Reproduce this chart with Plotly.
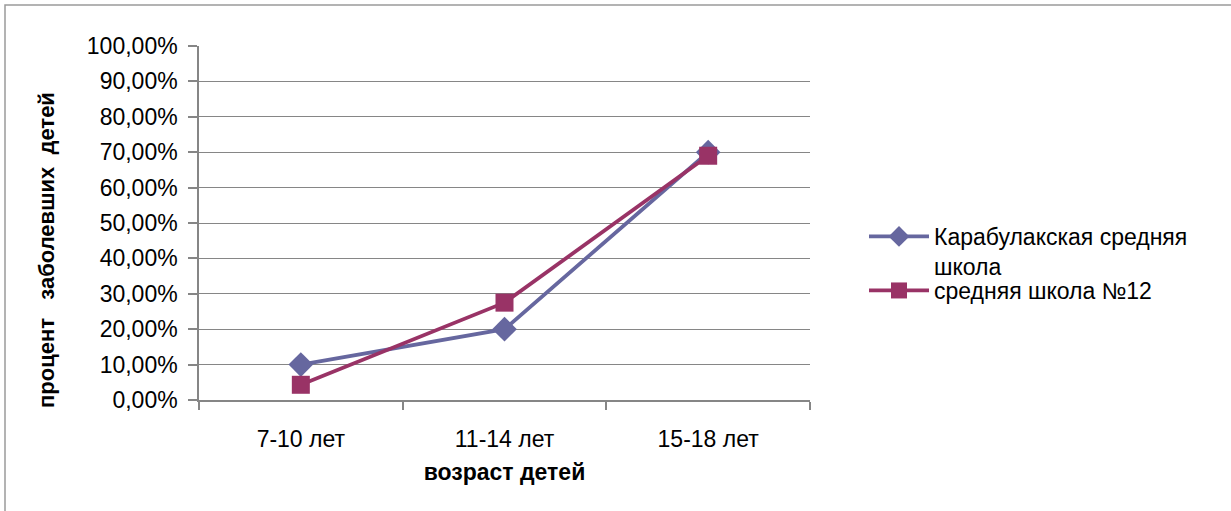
import plotly.graph_objects as go

# Age groups and share of children who fell ill, per school
age_groups = ["7-10 лет", "11-14 лет", "15-18 лет"]
karabulak_school = [0.10, 0.20, 0.70]
school_12 = [0.043, 0.275, 0.69]

series_names = ["Карабулакская средняя<br>школа", "средняя школа №12"]
y_ticks = [i / 10 for i in range(11)]

FONT = "Liberation Sans"
GRID = "#868686"
FS = 23

fig = go.Figure()
fig.add_trace(go.Scatter(
    x=age_groups, y=karabulak_school, name=series_names[0],
    mode="lines+markers", legend="legend",
    line=dict(color="#66679F", width=3.8),
    marker=dict(symbol="diamond", size=19, color="#66679F"),
))
fig.add_trace(go.Scatter(
    x=age_groups, y=school_12, name=series_names[1],
    mode="lines+markers", legend="legend2",
    line=dict(color="#993366", width=3.8),
    marker=dict(symbol="square", size=18, color="#993366"),
))

# plot area spans 199..810 px horizontally and 46..400 px vertically
pw, ph = 611, 354
fig.add_shape(
    type="rect", xref="paper", yref="paper",
    x0=(5 - 199) / pw, x1=(1240 - 199) / pw,
    y0=(400 - 520) / ph, y1=(400 - 5) / ph,
    line=dict(color="#9a9a9a", width=1.5), fillcolor="rgba(0,0,0,0)",
    layer="below",
)

# vertical axis title, drawn as a rotated annotation
fig.add_annotation(
    xref="paper", yref="paper",
    x=(46 - 199) / pw, y=(400 - 250) / ph,
    xanchor="center", yanchor="middle",
    text="<b>процент \u00a0 заболевших \u00a0детей</b>",
    textangle=-90, showarrow=False,
    font=dict(family=FONT, size=22, color="#000000"),
)

legend_style = dict(
    xanchor="left", yanchor="top",
    font=dict(family=FONT, size=FS, color="#000000"),
    itemwidth=60, valign="top", tracegroupgap=0,
    bgcolor="rgba(0,0,0,0)",
)

fig.update_layout(
    width=1231, height=511,
    margin=dict(l=199, r=1231 - 810, t=46, b=511 - 400),
    paper_bgcolor="white", plot_bgcolor="white",
    separators=", ",
    font=dict(family=FONT, size=FS, color="#000000"),
    showlegend=True,
    legend=dict(x=(864 - 199) / pw, y=(400 - 215) / ph, **legend_style),
    legend2=dict(x=(864 - 199) / pw, y=(400 - 269) / ph, **legend_style),
    xaxis=dict(
        type="category", range=[-0.5, 2.5],
        showline=True, linecolor=GRID, linewidth=1.5,
        ticks="outside", tickson="boundaries", ticklen=8,
        tickcolor=GRID, tickwidth=1.5,
        showgrid=False, zeroline=False,
        ticklabelstandoff=18,
        tickfont=dict(family=FONT, size=FS),
        title=dict(text="<b>возраст детей</b>", standoff=13,
                   font=dict(family=FONT, size=FS)),
    ),
    yaxis=dict(
        range=[0, 1], tickvals=y_ticks, tickformat=".2%",
        showline=True, linecolor=GRID, linewidth=1.5,
        ticks="outside", ticklen=9, tickcolor=GRID, tickwidth=1.5,
        ticklabelstandoff=6,
        showgrid=True, gridcolor=GRID, gridwidth=1.2,
        zeroline=False,
        tickfont=dict(family=FONT, size=FS),
    ),
)

fig.write_html("out.html")
